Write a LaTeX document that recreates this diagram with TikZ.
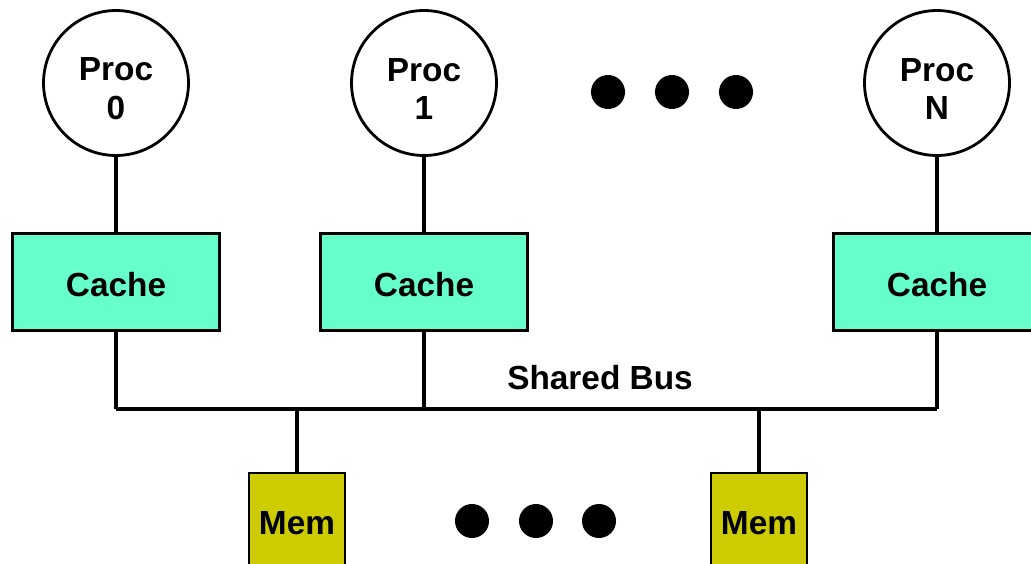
\documentclass[tikz,border=0pt]{standalone}
\usepackage{fontspec}
\setmainfont{Liberation Sans}
\definecolor{cachegreen}{HTML}{66FFCC}
\definecolor{memyellow}{HTML}{CCCC00}
\begin{document}
\begin{tikzpicture}[x=0.02cm, y=-0.02cm,
  every node/.style={font=\fontsize{19}{22}\selectfont\bfseries},
  proc/.style={circle, draw, line width=1.6pt, minimum size=2.9cm, inner sep=0pt},
  cache/.style={rectangle, draw, line width=1.6pt, fill=cachegreen, minimum width=4.14cm, minimum height=1.94cm},
  mem/.style={rectangle, draw, line width=1.6pt, fill=memyellow, minimum width=1.92cm, minimum height=2cm},
  wire/.style={line width=2.3pt}]
  \useasboundingbox (0,0) rectangle (1031,564);
  % processors and their caches
  \foreach \n/\x in {0/116, 1/424, N/937} {
    \node[proc] (p\n) at (\x,83) {};
    \node[align=center] (l\n) at (\x,89) {Proc\\\n};
    \node[cache] (c\n) at (\x,282) {};
    \node (t\n) at (\x,285) {Cache};
    \coordinate (b\n) at (\x,409);
    \draw[wire] (p\n) -- (c\n);
    \draw[wire] (c\n) -- (b\n);
  }
  \draw[wire] (b0) -- (bN);
  \node (bus) at (600,378) {Shared Bus};
  % memory modules
  \foreach \m/\x in {0/297, 1/759} {
    \node[mem] (m\m) at (\x,523) {Mem};
    \coordinate (j\m) at (\x,409);
    \draw[wire] (j\m) -- (m\m);
  }
  % ellipses
  \foreach \x in {608,672,736} \fill (\x,92) circle [radius=17];
  \foreach \x in {472,536,599} \fill (\x,521) circle [radius=17];
\end{tikzpicture}
\end{document}
